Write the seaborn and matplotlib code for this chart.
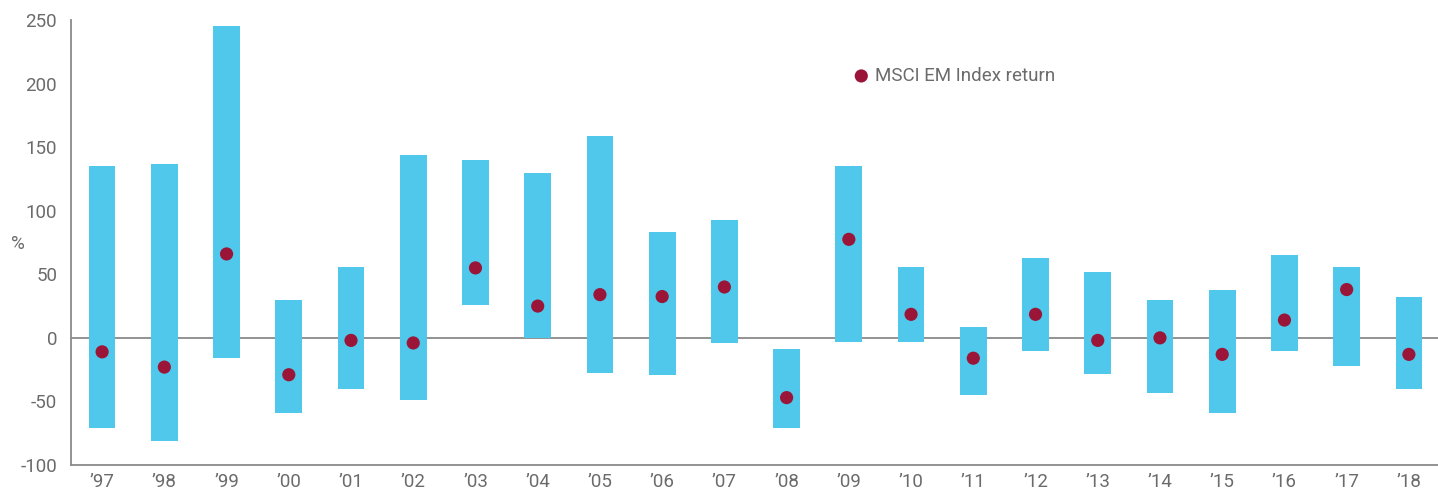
import matplotlib
matplotlib.use("Agg")
import matplotlib.pyplot as plt
import seaborn as sns
import pandas as pd
import numpy as np

years = ["\u201997", "\u201998", "\u201999", "\u201900", "\u201901", "\u201902", "\u201903", "\u201904",
         "\u201905", "\u201906", "\u201907", "\u201908", "\u201909", "\u201910", "\u201911", "\u201912",
         "\u201913", "\u201914", "\u201915", "\u201916", "\u201917", "\u201918"]
range_high = [135, 136.5, 245, 29.5, 56, 143.5, 139.5, 130, 158.5, 83, 92.5, -9,
              135, 55.5, 8.5, 63, 51.5, 29.5, 37.5, 65.5, 55.5, 32]
range_low = [-71, -81, -16, -59, -40, -49, 25.5, 0, -28, -29.5, -4, -71,
             -3.5, -3, -45, -10.5, -28.5, -43, -59, -10.5, -22.5, -40.5]
index_return = [-11, -23, 66, -29, -2, -4, 55, 25, 34, 32.5, 40, -47,
                77.5, 18.5, -16, 18.5, -2, 0, -13, 14, 38, -13]

df = pd.DataFrame({"year": years, "high": range_high, "low": range_low, "ret": index_return})
df["span"] = df["high"] - df["low"]
df["pos"] = np.arange(len(df))

sns.set_style("white")
plt.rcParams["font.family"] = ["Roboto", "DejaVu Sans"]
grey = "#6b6b6b"
axis_grey = "#8a8a8a"

fig = plt.figure(figsize=(14.38, 4.97), dpi=100)
ax = fig.add_axes([71 / 1438, 32 / 497, 1369 / 1438, 445 / 497])

ax.bar(df["pos"], df["span"], bottom=df["low"], width=0.43, color="#4FC8EB",
       linewidth=0, zorder=2)
sns.scatterplot(data=df, x="pos", y="ret", color="#9B1538", s=90, edgecolor="none",
                ax=ax, zorder=3, legend=False)

ax.axhline(0, color=axis_grey, lw=1.3, zorder=1)
ax.set_xlim(-0.5, len(df) - 0.5)
ax.set_ylim(-100, 250)
ax.set_yticks(range(-100, 251, 50))
ax.set_yticklabels([str(v) for v in range(-100, 251, 50)])
ax.set_xticks(np.arange(len(df)))
ax.set_xticklabels(years)
ax.set_xticks(np.arange(-0.5, len(df), 1), minor=True)
ax.tick_params(axis="x", which="major", length=0, pad=6, labelsize=13.5, labelcolor=grey)
ax.tick_params(axis="x", which="minor", length=9, width=1.3, color=axis_grey, direction="out")
ax.tick_params(axis="y", length=6, width=1.3, color=axis_grey, labelsize=13.5, labelcolor=grey, pad=4)
ax.set_xlabel("")
ax.set_ylabel("")
fig.text(18 / 1438, 0.51, "%", color=grey, fontsize=13.5, ha="center", va="center")

for side in ["top", "right"]:
    ax.spines[side].set_visible(False)
for side in ["left", "bottom"]:
    ax.spines[side].set_color(axis_grey)
    ax.spines[side].set_linewidth(1.3)

ax.scatter([12.2], [206], s=90, color="#9B1538", edgecolor="none", clip_on=False)
ax.text(12.42, 206, "MSCI EM Index return", color=grey, fontsize=13.5, va="center")

fig.savefig("out.png", dpi=100)
